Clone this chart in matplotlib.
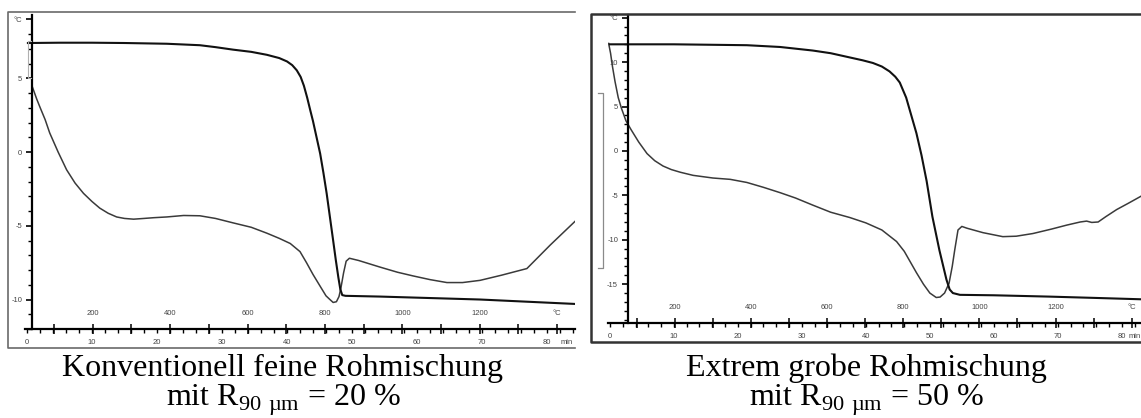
import matplotlib
matplotlib.use("Agg")
import matplotlib.pyplot as plt
from matplotlib.lines import Line2D
from matplotlib.ticker import MultipleLocator, FixedLocator

plt.rcParams['font.family'] = ['Liberation Sans', 'DejaVu Sans']
plt.rcParams['mathtext.fontset'] = 'custom'
plt.rcParams['mathtext.rm'] = 'Liberation Serif'

# furnace temperature is linear in time: T = T_START + RATE * t
T_START = 30.0
RATE = 16.8

# ---- fine raw meal, R90 = 20 % ----
fine_upper_t = [0.15, 5, 10, 15, 21.5, 26.6, 29, 31.7, 34.5, 36.9, 38.8, 40.0, 40.8, 41.5, 42.1,
                42.6, 43.1, 43.6, 44, 44.5, 45.1, 45.6, 46.1, 46.6, 47.1, 47.5, 47.9, 48.2, 48.5,
                49, 54.3, 62, 69.7, 77, 84.3]
fine_upper_v = [7.4, 7.42, 7.42, 7.4, 7.35, 7.25, 7.12, 6.95, 6.8, 6.6, 6.38, 6.15, 5.9, 5.55, 5.1,
                4.5, 3.7, 2.8, 2.1, 1.1, -0.1, -1.4, -2.8, -4.4, -6.0, -7.3, -8.5, -9.3, -9.7,
                -9.75, -9.8, -9.9, -10.0, -10.15, -10.3]
fine_lower_t = [0.77, 1.5, 2.0, 2.8, 3.5, 4.8, 6.1, 7.4, 8.7, 10.0, 11.2, 12.5, 13.8, 15.0, 16.4,
                18, 19.5, 21.5, 24.1, 26.6, 29, 31.7, 34.5, 36.9, 38.8, 40.5, 42, 43, 44, 45.1,
                46, 46.6, 47.1, 47.6, 48.0, 48.3, 48.7, 49.1, 49.6, 51, 54.3, 57, 59.4, 62,
                64.6, 67, 69.7, 73, 76.9, 80.5, 84.3]
fine_lower_v = [4.5, 3.6, 3.05, 2.2, 1.3, 0.0, -1.2, -2.1, -2.8, -3.35, -3.8, -4.15, -4.4, -4.5, -4.55,
                -4.5, -4.45, -4.4, -4.3, -4.32, -4.5, -4.8, -5.1, -5.5, -5.85, -6.2, -6.75, -7.5, -8.3, -9.1,
                -9.75, -10.0, -10.2, -10.15, -9.8, -9.2, -8.2, -7.4, -7.2, -7.35, -7.8, -8.15, -8.4, -8.65,
                -8.85, -8.85, -8.7, -8.35, -7.9, -6.3, -4.7]

# ---- coarse raw meal, R90 = 50 % ----
coarse_upper_t = [0, 10, 21.4, 26.6, 31.7, 34.5, 37, 39.5, 41.1, 42.5, 43.7, 44.6, 45.3, 46.3, 47.1,
                  47.9, 48.7, 49.5, 50.4, 51.5, 52.6, 53.1, 53.6, 54.7, 60, 68.7, 76, 83]
coarse_upper_v = [12.0, 12.0, 11.9, 11.7, 11.3, 11.0, 10.6, 10.2, 9.9, 9.5, 8.95, 8.35, 7.7, 6.0, 4.0,
                  2.0, -0.5, -3.4, -7.4, -11.2, -14.5, -15.6, -16.0, -16.2, -16.25, -16.4, -16.55, -16.7]
coarse_lower_t = [-0.2, 0.1, 0.4, 0.8, 1.3, 1.8, 2.5, 3.3, 4.5, 5.8, 7.0, 8.3, 9.6, 11, 13, 16.1,
                  18.8, 21.4, 24, 26.6, 29, 31.7, 34.5, 37.5, 40, 42.5, 44.8, 46, 47.9, 49, 50,
                  51, 51.6, 52.3, 53.0, 53.5, 53.9, 54.4, 55.0, 55.8, 58.3, 61.4, 63.5, 66.1, 69,
                  71.4, 73.5, 74.5, 75.3, 76.3, 77.5, 79.2, 81, 83]
coarse_lower_v = [12.1, 11.0, 9.5, 7.8, 6.0, 4.8, 3.4, 2.4, 1.0, -0.3, -1.1, -1.7, -2.1, -2.4, -2.75, -3.05,
                  -3.2, -3.55, -4.1, -4.7, -5.3, -6.1, -6.9, -7.5, -8.1, -8.9, -10.2, -11.3, -13.7, -15.0, -16.0,
                  -16.5, -16.45, -16.0, -14.9, -13.0, -11.1, -8.9, -8.5, -8.7, -9.2, -9.65, -9.6, -9.3, -8.8,
                  -8.35, -8.0, -7.9, -8.05, -8.0, -7.4, -6.6, -5.9, -5.1]

time_ticks = list(range(0, 90, 10))
temp_ticks = [200, 400, 600, 800, 1000, 1200, 1400]
temp_labels = ['200', '400', '600', '800', '1000', '1200', '°C']

captions = ['Konventionell feine Rohmischung\nmit R$_{\\mathregular{90\\ µm}}$ = 20 %',
            'Extrem grobe Rohmischung\nmit R$_{\\mathregular{90\\ µm}}$ = 50 %']

W, H = 1141, 418
fig = plt.figure(figsize=(W / 100, H / 100), dpi=100)


def px(x0, y0, w, h):
    # pixel box (top-left origin) -> figure fraction
    return [x0 / W, 1 - (y0 + h) / H, w / W, h / H]


def thermo_panel(rect, xlim, ylim, yaxis_t, yticks, ylabels, upper, lower, min_at):
    ax = fig.add_axes(rect)
    ax.set_xlim(*xlim)
    ax.set_ylim(*ylim)
    ax.patch.set_alpha(0)
    for s in ['top', 'right']:
        ax.spines[s].set_visible(False)
    ax.spines['left'].set_position(('data', yaxis_t))
    ax.spines['left'].set_linewidth(1.6)
    ax.spines['bottom'].set_linewidth(1.6)

    ax.plot(lower[0], lower[1], color='#3a3a3a', lw=1.1, solid_joinstyle='round')
    ax.plot(upper[0], upper[1], color='#111111', lw=1.5, solid_joinstyle='round')

    # y axis: °C scale
    ax.yaxis.set_major_locator(FixedLocator(yticks))
    ax.set_yticklabels(ylabels)
    ax.yaxis.set_minor_locator(MultipleLocator(1))
    ax.tick_params(axis='y', which='major', direction='out', length=4, width=1.2,
                   labelsize=5.5, labelcolor='#444444', pad=3)
    ax.tick_params(axis='y', which='minor', direction='out', length=3, width=1.0)

    # x axis: time in minutes
    ax.set_xticks(time_ticks)
    ax.xaxis.set_minor_locator(MultipleLocator(2))
    ax.tick_params(axis='x', which='major', direction='out', length=3, width=1.0,
                   labelsize=5.5, labelcolor='#444444', pad=4)
    ax.tick_params(axis='x', which='minor', direction='out', length=3, width=1.0)
    ax.annotate('min', xy=(min_at, 0), xycoords=('data', 'axes fraction'),
                xytext=(0, -7), textcoords='offset points', fontsize=5.5,
                color='#444444', ha='left', va='top')

    # secondary scale: furnace temperature
    ax2 = ax.twiny()
    ax2.set_xlim(T_START + RATE * xlim[0], T_START + RATE * xlim[1])
    for s in ax2.spines.values():
        s.set_visible(False)
    ax2.spines['top'].set_position(('axes', 0.0))
    ax2.xaxis.set_major_locator(FixedLocator(temp_ticks))
    ax2.set_xticklabels(temp_labels)
    ax2.xaxis.set_minor_locator(MultipleLocator(100))
    ax2.tick_params(axis='x', which='both', direction='inout', length=7, width=1.1,
                    labelsize=5.5, labelcolor='#444444', pad=5)
    return ax


# left panel: fine raw meal
axL = thermo_panel(px(25, 15, 550, 314), (-0.3, 84.3), (-12.0, 9.3), 0.77,
                   [-10, -5, 0, 5, 9], ['-10', '-5', '0', '5', '°C'],
                   (fine_upper_t, fine_upper_v), (fine_lower_t, fine_lower_v), 82.0)

# right panel: coarse raw meal
axR = thermo_panel(px(608, 15, 533, 308), (-0.3, 83.0), (-19.37, 15.3), 2.8,
                   [-15, -10, -5, 0, 5, 10, 15], ['-15', '-10', '-5', '0', '5', '10', '°C'],
                   (coarse_upper_t, coarse_upper_v), (coarse_lower_t, coarse_lower_v), 81.0)


def fig_line(xs, ys, **kw):
    fig.add_artist(Line2D([x / W for x in xs], [1 - y / H for y in ys],
                          transform=fig.transFigure, **kw))


# chart frames
fig_line([575, 8, 8, 575], [12, 12, 348, 348], color='#6a6a6a', lw=1.2)
fig_line([1141, 591, 591, 1141], [14, 14, 342, 342], color='#333333', lw=1.8)
# range brackets at the start of the curves
fig_line([31, 28, 28, 31], [41, 41, 78, 78], color='#b0b0b0', lw=0.8)
fig_line([598, 603, 603, 598], [93, 93, 268, 268], color='#8a8a8a', lw=0.9)

cap = dict(fontsize=23, family='Liberation Serif', ha='center', va='center',
           ma='center', linespacing=0.98, color='black')
fig.text(283 / W, 1 - 386 / H, captions[0], **cap)
fig.text(866 / W, 1 - 386 / H, captions[1], **cap)

fig.savefig('out.png', dpi=100)
